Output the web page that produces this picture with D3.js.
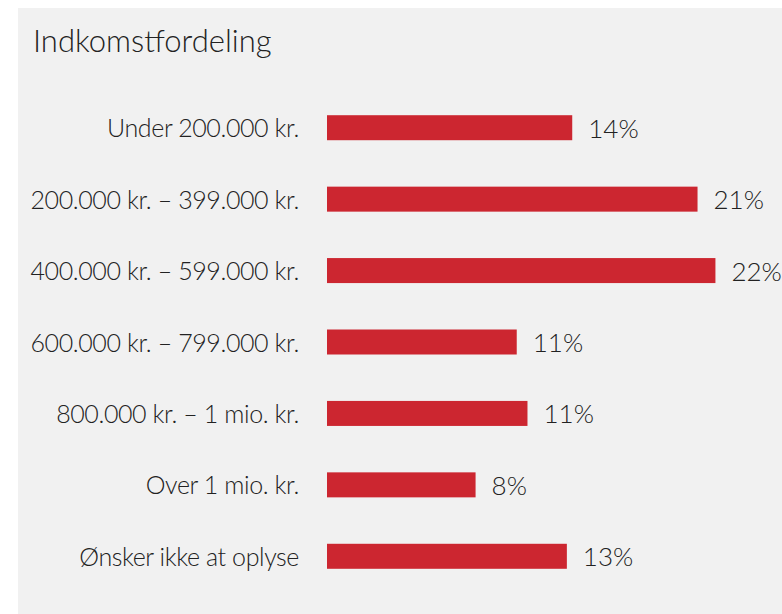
<!DOCTYPE html>
<html>
<head>
<meta charset="utf-8">
<script src="https://cdn.jsdelivr.net/npm/d3@7"></script>
<style>
  body { margin: 0; background: #fff; }
  svg text { font-family: Lato, "Open Sans", sans-serif; font-weight: 300; fill: #222; }
</style>
</head>
<body>
<div id="chart"></div>
<script>
// data
const categories = [
    "Under 200.000 kr.",
    "200.000 kr. \u2013 399.000 kr.",
    "400.000 kr. \u2013 599.000 kr.",
    "600.000 kr. \u2013 799.000 kr.",
    "800.000 kr. \u2013 1 mio. kr.",
    "Over 1 mio. kr.",
    "\u00d8nsker ikke at oplyse"
];
const shares = [13.7, 20.7, 21.7, 10.6, 11.2, 8.3, 13.4];
const title = "Indkomstfordeling";

const width = 782, height = 614;

const svg = d3.select("#chart").append("svg")
    .attr("width", width)
    .attr("height", height);

// grey panel
svg.append("rect")
    .attr("x", 18)
    .attr("y", 8)
    .attr("width", width - 18)
    .attr("height", height - 8)
    .attr("fill", "#f1f1f1");

svg.append("text")
    .attr("x", 33)
    .attr("y", 52)
    .style("font-size", "31px")
    .text(title);

const x = d3.scaleLinear()
    .domain([0, 25])
    .range([327, 327 + 25 * 17.9]);

const y = d3.scaleBand()
    .domain(categories)
    .range([92, 592])
    .paddingInner(0.65)
    .paddingOuter(0.325);

const rows = svg.append("g").selectAll("g")
    .data(categories)
    .join("g");

rows.append("rect")
    .attr("x", x(0))
    .attr("y", d => y(d))
    .attr("width", (d, i) => x(shares[i]) - x(0))
    .attr("height", y.bandwidth())
    .attr("fill", "#cc2630");

rows.append("text")
    .attr("x", 299)
    .attr("y", d => y(d) + y.bandwidth() / 2 + 9.5)
    .attr("text-anchor", "end")
    .style("font-size", "25px")
    .style("letter-spacing", "-0.4px")
    .text(d => d);

rows.append("text")
    .attr("x", (d, i) => x(shares[i]) + 16)
    .attr("y", d => y(d) + y.bandwidth() / 2 + 10)
    .style("font-size", "26px")
    .text((d, i) => Math.round(shares[i]) + "%");
</script>
</body>
</html>
